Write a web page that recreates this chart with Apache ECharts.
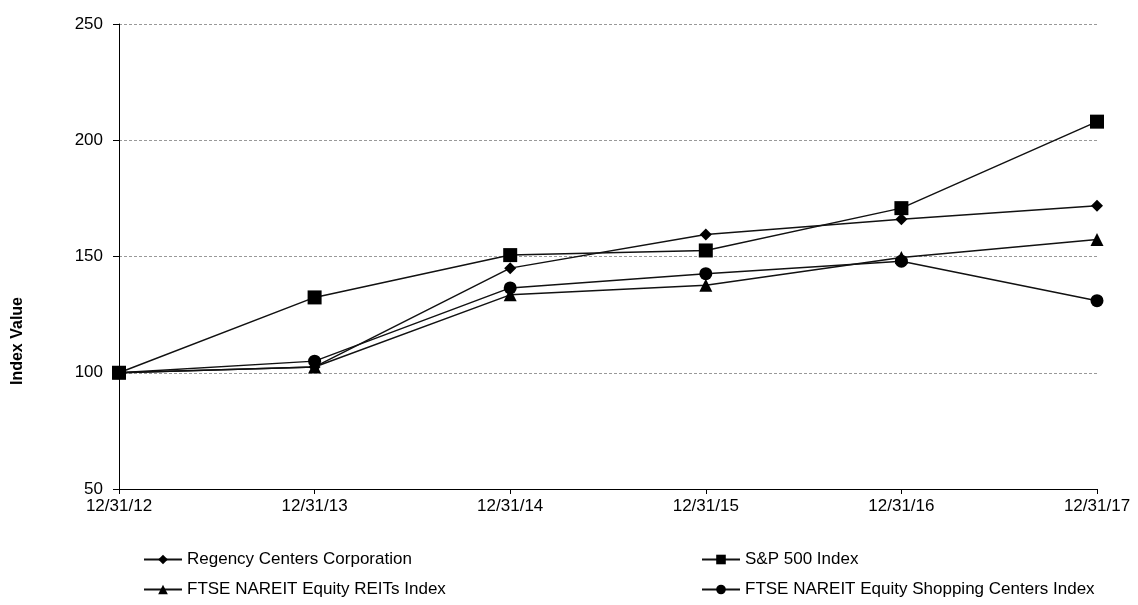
<!DOCTYPE html>
<html><head><meta charset="utf-8">
<script src="https://cdn.jsdelivr.net/npm/echarts@6/dist/echarts.min.js"></script>
<style>html,body{margin:0;padding:0;background:#fff}#c{width:1138px;height:605px}</style>
</head><body><div id="c"></div>
<script>
var categories = ['12/31/12','12/31/13','12/31/14','12/31/15','12/31/16','12/31/17'];
var regency = [100, 102.5, 145, 159.5, 166, 171.8];
var sp500 = [100, 132.4, 150.6, 152.6, 170.8, 208];
var reits = [100, 102.5, 133.5, 137.6, 149.6, 157.3];
var shopping = [100, 105, 136.5, 142.6, 148, 131];
var seriesNames = ['Regency Centers Corporation','S&P 500 Index','FTSE NAREIT Equity REITs Index','FTSE NAREIT Equity Shopping Centers Index'];
var yTicks = [50, 100, 150, 200, 250];

var font = 'Arial, "Liberation Sans", sans-serif';
function mk(name, data, symbol, size){
  return {name:name, type:'line', data:data, symbol:symbol, symbolSize:size,
    lineStyle:{color:'#111', width:1.5}, itemStyle:{color:'#000'}, animation:false};
}
var chart = echarts.init(document.getElementById('c'));
chart.setOption({
  backgroundColor:'#fff',
  animation:false,
  grid:{left:119, right:41, top:24, bottom:116},
  xAxis:{type:'category', data:categories, boundaryGap:false,
    axisLine:{lineStyle:{color:'#000', width:1}},
    axisTick:{show:true, length:5, lineStyle:{color:'#000'}},
    axisLabel:{color:'#000', fontSize:17, fontFamily:font, margin:9}},
  yAxis:{type:'value', min:yTicks[0], max:yTicks[yTicks.length-1], interval:50,
    axisLine:{show:true, lineStyle:{color:'#000', width:1}},
    axisTick:{show:true, length:6, lineStyle:{color:'#000'}},
    axisLabel:{color:'#000', fontSize:17, fontFamily:font, margin:16},
    splitLine:{show:true, lineStyle:{color:'#999', type:[3,2], width:1}}},
  legend:[
    {data:[seriesNames[0], seriesNames[2]], orient:'vertical', left:138, top:546, itemGap:13, itemWidth:38, itemHeight:12,
     textStyle:{color:'#000', fontSize:17, fontFamily:font}},
    {data:[seriesNames[1], seriesNames[3]], orient:'vertical', left:696, top:546, itemGap:13, itemWidth:38, itemHeight:12,
     textStyle:{color:'#000', fontSize:17, fontFamily:font}}
  ],
  graphic:[{type:'text', left:10, top:297, rotation:Math.PI/2,
    style:{text:'Index Value', fill:'#000', font:'bold 16px Arial, "Liberation Sans", sans-serif'}}],
  series:[
    mk(seriesNames[0], regency, 'diamond', 12),
    mk(seriesNames[1], sp500, 'rect', 14),
    mk(seriesNames[2], reits, 'triangle', 13),
    mk(seriesNames[3], shopping, 'circle', 13)
  ]
});
</script></body></html>
